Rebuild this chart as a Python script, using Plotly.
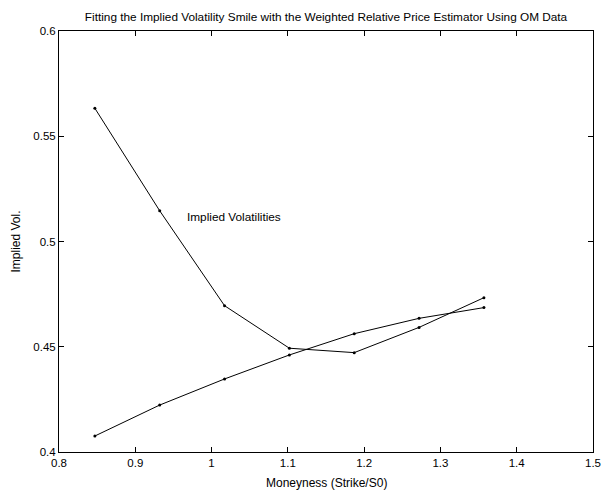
import plotly.graph_objects as go

moneyness = [0.847, 0.932, 1.017, 1.102, 1.187, 1.272, 1.357]
implied_vol = [0.5633, 0.5146, 0.4695, 0.4493, 0.4472, 0.4592, 0.4733]
fitted_vol = [0.4076, 0.4223, 0.4347, 0.4461, 0.4562, 0.4635, 0.4686]

x_ticks = [0.8, 0.9, 1.0, 1.1, 1.2, 1.3, 1.4, 1.5]
x_ticktext = ["0.8", "0.9", "1", "1.1", "1.2", "1.3", "1.4", "1.5"]
y_ticks = [0.4, 0.45, 0.5, 0.55, 0.6]
y_ticktext = ["0.4", "0.45", "0.5", "0.55", "0.6"]

title = "Fitting the Implied Volatility Smile with the Weighted Relative Price Estimator Using OM Data"
annot_text = "Implied Volatilities"
x_title = "Moneyness (Strike/S0)"
y_title = "Implied Vol."

FONT = "Liberation Sans, Arial, sans-serif"
L, R, T, B = 59, 11, 31, 40
W, H = 604, 492
PW, PH = W - L - R, H - T - B

fig = go.Figure()
for ys in (implied_vol, fitted_vol):
    fig.add_trace(go.Scatter(
        x=moneyness, y=ys, mode="lines+markers",
        line=dict(color="black", width=1),
        marker=dict(color="black", size=3),
        showlegend=False,
    ))

fig.add_annotation(x=0.965, y=0.5118, text=annot_text, showarrow=False,
                   xanchor="left", yanchor="middle",
                   font=dict(family=FONT, size=11.8, color="black"))

# axis titles as paper annotations
fig.add_annotation(xref="paper", yref="paper", x=0.5, y=-(482.7 - (H - B)) / PH,
                   text=x_title, showarrow=False, xanchor="center", yanchor="middle",
                   font=dict(family=FONT, size=12, color="black"))
fig.add_annotation(xref="paper", yref="paper", x=-(L - 15) / PW, y=0.5,
                   text=y_title, showarrow=False, textangle=-90,
                   xanchor="center", yanchor="middle",
                   font=dict(family=FONT, size=12, color="black"))

axis_common = dict(
    showline=True, linecolor="black", linewidth=1, mirror="ticks",
    ticks="inside", ticklen=5, tickcolor="black", tickwidth=1,
    showgrid=False, zeroline=False, automargin=False,
    tickfont=dict(family=FONT, size=11.5, color="black"),
)

fig.update_layout(
    width=W, height=H,
    margin=dict(l=L, r=R, t=T, b=B),
    paper_bgcolor="white", plot_bgcolor="white",
    title=dict(text=title, x=(59 + 593) / 2 / W, xanchor="center",
               y=1 - 17 / H, yanchor="middle",
               font=dict(family=FONT, size=11.8, color="black")),
    xaxis=dict(range=[0.8, 1.5], tickvals=x_ticks, ticktext=x_ticktext, **axis_common),
    yaxis=dict(range=[0.4, 0.6], tickvals=y_ticks, ticktext=y_ticktext, **axis_common),
)

fig.write_html("out.html")
